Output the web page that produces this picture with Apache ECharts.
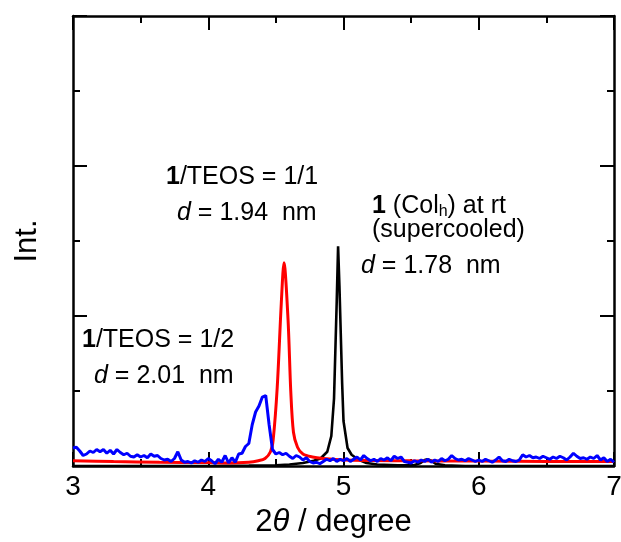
<!DOCTYPE html>
<html><head><meta charset="utf-8">
<script src="https://cdn.jsdelivr.net/npm/echarts@6/dist/echarts.min.js"></script>
<style>html,body{margin:0;padding:0;background:#fff}#c{width:621px;height:542px}</style>
</head><body><div id="c"></div>
<script>
var xTicks = [3, 4, 5, 6, 7];
var blackData = [[3.0,0.0],[3.5,0.0],[4.0,0.0],[4.3,0.005],[4.5,0.01],[4.6,0.02],[4.7,0.04],[4.78,0.07],[4.83,0.1],[4.88,0.19],[4.91,0.4],[4.93,0.9],[4.95,2.2],[4.96,2.93],[4.97,2.4],[4.99,1.1],[5.0,0.6],[5.03,0.24],[5.06,0.15],[5.09,0.11],[5.13,0.07],[5.17,0.04],[5.25,0.02],[5.4,0.01],[5.52,0.01],[5.57,0.04],[5.6,0.08],[5.62,0.09],[5.65,0.07],[5.68,0.03],[5.75,0.01],[5.9,0.0],[6.5,0.0],[7.0,0.0]];
var redData = [[3.0,0.07],[3.3,0.06],[3.64,0.05],[4.0,0.045],[4.14,0.04],[4.3,0.05],[4.37,0.07],[4.42,0.1],[4.46,0.19],[4.48,0.35],[4.51,1.05],[4.54,2.17],[4.56,2.71],[4.59,1.95],[4.61,1.0],[4.63,0.45],[4.66,0.25],[4.7,0.16],[4.77,0.12],[4.85,0.1],[5.0,0.08],[5.5,0.07],[6.0,0.065],[6.5,0.06],[7.0,0.06]];
var blueData = [[3.000,0.24],[3.025,0.25],[3.050,0.20],[3.075,0.14],[3.100,0.16],[3.125,0.20],[3.150,0.18],[3.175,0.22],[3.200,0.19],[3.225,0.22],[3.250,0.17],[3.275,0.21],[3.300,0.16],[3.325,0.22],[3.350,0.18],[3.375,0.15],[3.400,0.17],[3.425,0.13],[3.450,0.12],[3.475,0.15],[3.500,0.12],[3.525,0.14],[3.550,0.11],[3.575,0.16],[3.600,0.13],[3.625,0.14],[3.650,0.10],[3.675,0.08],[3.700,0.09],[3.725,0.06],[3.750,0.10],[3.775,0.19],[3.800,0.08],[3.825,0.05],[3.850,0.06],[3.875,0.04],[3.900,0.07],[3.925,0.05],[3.950,0.08],[3.975,0.06],[4.000,0.10],[4.025,0.07],[4.050,0.03],[4.075,0.09],[4.100,0.05],[4.125,0.14],[4.150,0.04],[4.175,0.11],[4.200,0.05],[4.225,0.16],[4.250,0.17],[4.275,0.26],[4.300,0.30],[4.325,0.55],[4.350,0.72],[4.375,0.80],[4.400,0.92],[4.425,0.94],[4.450,0.55],[4.475,0.22],[4.500,0.16],[4.525,0.18],[4.550,0.15],[4.575,0.17],[4.600,0.13],[4.625,0.10],[4.650,0.14],[4.675,0.12],[4.700,0.08],[4.725,0.11],[4.750,0.06],[4.775,0.04],[4.800,0.05],[4.825,0.03],[4.850,0.06],[4.875,0.09],[4.900,0.07],[4.925,0.10],[4.950,0.06],[4.975,0.09],[5.000,0.07],[5.025,0.10],[5.050,0.06],[5.075,0.09],[5.100,0.12],[5.125,0.08],[5.150,0.14],[5.175,0.10],[5.200,0.07],[5.225,0.09],[5.250,0.06],[5.275,0.10],[5.300,0.08],[5.325,0.11],[5.350,0.07],[5.375,0.13],[5.400,0.10],[5.425,0.12],[5.450,0.06],[5.475,0.05],[5.500,0.04],[5.525,0.07],[5.550,0.05],[5.575,0.08],[5.600,0.06],[5.625,0.09],[5.650,0.05],[5.675,0.08],[5.700,0.06],[5.725,0.10],[5.750,0.07],[5.775,0.09],[5.800,0.14],[5.825,0.10],[5.850,0.08],[5.875,0.09],[5.900,0.07],[5.925,0.10],[5.950,0.08],[5.975,0.06],[6.000,0.08],[6.025,0.06],[6.050,0.09],[6.075,0.07],[6.100,0.05],[6.125,0.08],[6.150,0.12],[6.175,0.07],[6.200,0.06],[6.225,0.09],[6.250,0.07],[6.275,0.06],[6.300,0.08],[6.325,0.15],[6.350,0.12],[6.375,0.14],[6.400,0.11],[6.425,0.12],[6.450,0.10],[6.475,0.13],[6.500,0.11],[6.525,0.09],[6.550,0.12],[6.575,0.10],[6.600,0.13],[6.625,0.11],[6.650,0.08],[6.675,0.12],[6.700,0.17],[6.725,0.13],[6.750,0.10],[6.775,0.11],[6.800,0.09],[6.825,0.12],[6.850,0.10],[6.875,0.14],[6.900,0.08],[6.925,0.11],[6.950,0.06],[6.975,0.09],[7.000,0.05]];

var FONT = '"Liberation Sans", Arial, sans-serif';
var chart = echarts.init(document.getElementById('c'), null, {renderer: 'canvas'});
var axisLine = {show: true, onZero: false, lineStyle: {color: '#000', width: 2.5}};
function xAx(pos, showLabel) {
  return {
    type: 'value', position: pos, min: 3, max: 7, interval: 1,
    axisLine: axisLine,
    axisTick: {show: true, inside: true, length: 14, lineStyle: {color: '#000', width: 2}},
    minorTick: {show: true, splitNumber: 2, length: 7, lineStyle: {color: '#000', width: 2}},
    splitLine: {show: false},
    axisLabel: {show: showLabel, inside: false, margin: 7, fontSize: 28, color: '#000', fontFamily: FONT,
      formatter: function (v) { return xTicks.indexOf(v) >= 0 ? String(v) : ''; }},
    name: showLabel ? '2{i|θ} / degree' : '',
    nameLocation: 'middle', nameGap: 41,
    nameTextStyle: {fontSize: 31, color: '#000', fontFamily: FONT, padding: [0, 20, 0, 0],
      rich: {i: {fontSize: 31, fontStyle: 'italic', color: '#000', fontFamily: FONT}}}
  };
}
function yAx(pos, showName) {
  return {
    type: 'value', position: pos, min: 0, max: 6, interval: 2,
    axisLine: axisLine,
    axisTick: {show: true, inside: true, length: 14, lineStyle: {color: '#000', width: 2}},
    minorTick: {show: true, splitNumber: 2, length: 7, lineStyle: {color: '#000', width: 2}},
    splitLine: {show: false},
    axisLabel: {show: false},
    name: showName ? 'Int.' : '',
    nameLocation: 'middle', nameGap: 30,
    nameTextStyle: {fontSize: 31, color: '#000', fontFamily: FONT}
  };
}
var T = 25;
var rich = {
  b: {fontWeight: 'bold', fontSize: T, fontFamily: FONT, color: '#000'},
  i: {fontStyle: 'italic', fontSize: T, fontFamily: FONT, color: '#000'},
  s: {fontSize: 16, fontFamily: FONT, color: '#000', verticalAlign: 'bottom', padding: [10, 0, 0, 0]}
};
function txt(x, y, s) {
  return {type: 'text', left: x, top: y, style: {text: s, fontSize: T, fontFamily: FONT, fill: '#000', rich: rich}};
}
chart.setOption({
  animation: false,
  grid: {left: 73, right: 7, top: 16, bottom: 76, containLabel: false, outerBoundsMode: 'none'},
  xAxis: [xAx('bottom', true), xAx('top', false)],
  yAxis: [yAx('left', true), yAx('right', false)],
  series: [
    {type: 'line', data: blackData, showSymbol: false, lineStyle: {color: '#000', width: 2.6}, z: 3},
    {type: 'line', data: redData, showSymbol: false, smooth: 0.3, lineStyle: {color: '#ff0000', width: 3}, z: 4},
    {type: 'line', data: blueData, showSymbol: false, lineStyle: {color: '#0000ff', width: 3}, z: 5}
  ],
  graphic: [
    txt(166, 165, '{b|1}/TEOS = 1/1'),
    txt(177, 201, '{i|d} = 1.94  nm'),
    txt(82, 328, '{b|1}/TEOS = 1/2'),
    txt(94, 364, '{i|d} = 2.01  nm'),
    txt(372, 194, '{b|1} (Col{s|h}) at rt'),
    txt(372, 218, '(supercooled)'),
    txt(361, 254, '{i|d} = 1.78  nm')
  ]
});
</script></body></html>
